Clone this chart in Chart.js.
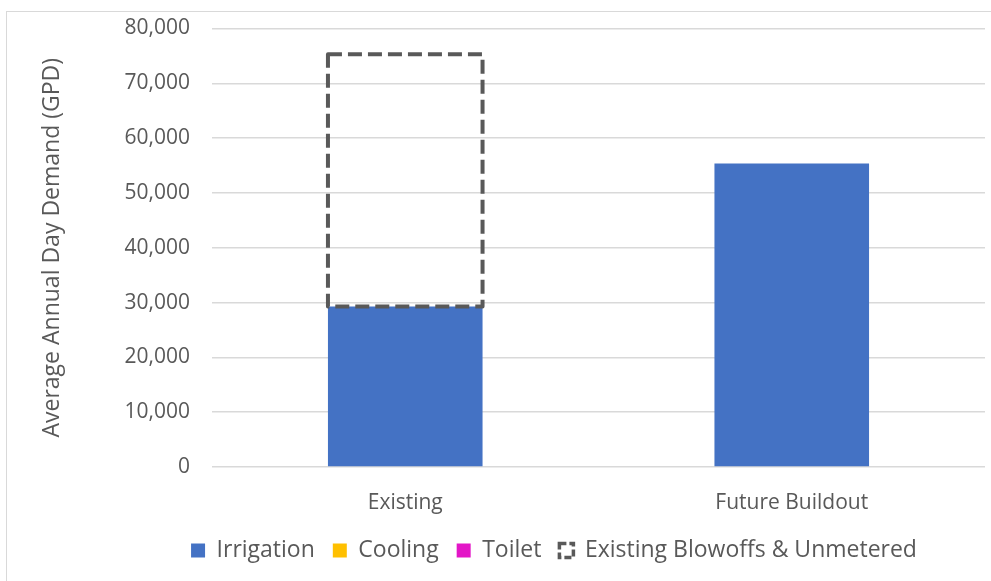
<!DOCTYPE html>
<html>
<head>
<meta charset="utf-8">
<script src="https://cdn.jsdelivr.net/npm/chart.js@4.4.0/dist/chart.umd.min.js"></script>
<style>
  html, body { margin: 0; padding: 0; background: #fff; overflow: hidden; }
  body { width: 991px; height: 581px; position: relative; }
  #frame {
    position: absolute; left: 6px; top: 11px;
    width: 1096px; height: 600px;
    border: 1px solid #d9d9d9; box-sizing: border-box;
  }
</style>
</head>
<body>
<div id="frame"><canvas id="demandChart"></canvas></div>
<script>
// demand by use, gallons per day
var categories = ["Existing", "Future Buildout"];
var irrigation = [29300, 55350];
var cooling = [0, 0];
var toilet = [0, 0];
var blowoffs = [46000, 0];

var yMax = 80000;
var yStep = 10000;

Chart.defaults.font.family = "'Open Sans', sans-serif";
Chart.defaults.color = "#595959";

// bars flagged with "outline" are drawn as a dashed box instead of a fill
var dashedOutline = {
  id: "dashedOutline",
  afterDatasetsDraw: function(chart) {
    var ctx = chart.ctx;
    chart.data.datasets.forEach(function(ds, i) {
      if (!ds.outline) return;
      var meta = chart.getDatasetMeta(i);
      if (meta.hidden) return;
      meta.data.forEach(function(bar, j) {
        if (!ds.data[j]) return;
        var p = bar.getProps(["x", "y", "base", "width"], true);
        ctx.save();
        ctx.strokeStyle = ds.outline.color;
        ctx.lineWidth = ds.outline.width;
        ctx.setLineDash(ds.outline.dash);
        ctx.lineJoin = "round";
        ctx.strokeRect(p.x - p.width / 2, p.y, p.width, p.base - p.y);
        ctx.restore();
      });
    });
  }
};

function noEdgePadding(scale) {
  scale.paddingTop = 0;
  scale.paddingBottom = 0;
}

new Chart(document.getElementById("demandChart"), {
  type: "bar",
  data: {
    labels: categories,
    datasets: [
      { label: "Irrigation", data: irrigation, backgroundColor: "#4472c4" },
      { label: "Cooling", data: cooling, backgroundColor: "#ffc000" },
      { label: "Toilet", data: toilet, backgroundColor: "#e316c7" },
      {
        label: "Existing Blowoffs & Unmetered",
        data: blowoffs,
        backgroundColor: "rgba(0,0,0,0)",
        outline: { color: "#595959", width: 4, dash: [14, 6] }
      }
    ]
  },
  plugins: [dashedOutline],
  options: {
    responsive: true,
    maintainAspectRatio: false,
    animation: false,
    barPercentage: 0.4,
    categoryPercentage: 1.0,
    layout: { padding: { left: 28, right: 28, top: 16.5, bottom: 38 } },
    scales: {
      x: {
        stacked: true,
        grid: { display: false },
        border: { display: false },
        ticks: { font: { size: 21 }, padding: 15 },
        afterFit: function(scale) { scale.height = 54; }
      },
      y: {
        stacked: true,
        min: 0,
        max: yMax,
        ticks: { stepSize: yStep, font: { size: 21 }, padding: 22 },
        grid: { color: "#d9d9d9", lineWidth: 1.5, drawTicks: false },
        border: { display: false },
        title: {
          display: true,
          text: "Average Annual Day Demand (GPD)",
          font: { size: 23 },
          padding: { top: 4, bottom: 4 }
        },
        afterFit: function(scale) {
          scale.width = 177;
          noEdgePadding(scale);
        }
      },
      // empty right-hand margin so the legend centres on the whole frame
      spacer: {
        type: "linear",
        position: "right",
        grid: { drawOnChartArea: false, display: false },
        border: { display: false },
        ticks: { display: false },
        afterFit: function(scale) {
          scale.width = 88;
          noEdgePadding(scale);
        }
      }
    },
    plugins: {
      tooltip: { enabled: false },
      legend: {
        position: "bottom",
        labels: {
          font: { size: 23 },
          boxWidth: 14,
          boxHeight: 14,
          padding: 18,
          generateLabels: function(chart) {
            var items = Chart.defaults.plugins.legend.labels.generateLabels(chart);
            items.forEach(function(item) {
              var ds = chart.data.datasets[item.datasetIndex];
              if (ds.outline) {
                item.fillStyle = "rgba(0,0,0,0)";
                item.strokeStyle = ds.outline.color;
                item.lineWidth = 3.5;
                item.lineDash = [7, 3];
              }
            });
            return items;
          }
        }
      }
    }
  }
});
</script>
</body>
</html>
